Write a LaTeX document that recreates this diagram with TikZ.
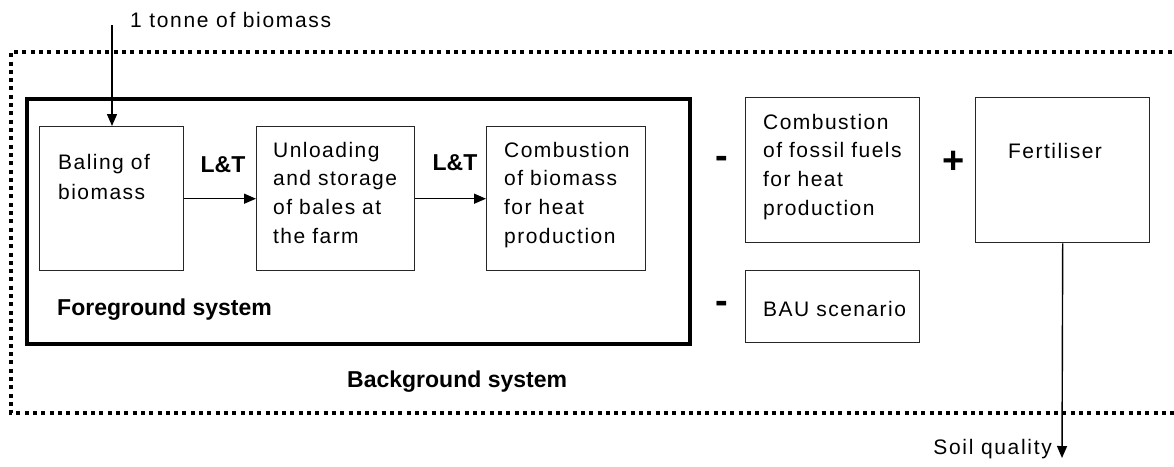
\documentclass[tikz,border=0pt]{standalone}
\usepackage{fontspec}
\setmainfont{Liberation Sans}
\usetikzlibrary{arrows.meta,calc}
\begin{document}
\begin{tikzpicture}[x=1pt,y=-1pt,
  box/.style={draw=black!85,line width=1.4pt,inner sep=0pt,anchor=north west,rectangle},
  txt/.style={anchor=base west,inner sep=0pt,text width=170pt,align=left,
    font=\fontsize{21}{28.7}\selectfont\addfontfeature{LetterSpace=7}},
  lbl/.style={inner sep=0pt,font=\fontsize{21}{26}\selectfont\addfontfeature{LetterSpace=8}},
  bld/.style={inner sep=0pt,font=\fontsize{23}{28}\selectfont\bfseries},
  sign/.style={inner sep=0pt,font=\fontsize{38}{40}\selectfont\bfseries},
  arr/.style={line width=1.4pt,-{Triangle[length=12pt,width=10pt]}}]
\useasboundingbox (0,0) rectangle (1174,466);

% background system (dotted, open to the right edge)
\draw[line width=4.2pt,dash pattern=on 4pt off 4.3pt]
  (1180,52) -- (11,52) -- (11,413) -- (1180,413);

% foreground system
\node[draw,line width=4pt,inner sep=0pt,anchor=north west,minimum width=663pt,minimum height=245pt] (fg) at (25,97) {};

% process boxes
\node[box,minimum width=144pt,minimum height=144pt] (bal) at (39,126) {};
\node[box,minimum width=158pt,minimum height=144pt] (unl) at (256,126) {};
\node[box,minimum width=159pt,minimum height=144pt] (comb) at (486,126) {};
\node[box,minimum width=174pt,minimum height=145pt] (fos) at (745,97) {};
\node[box,minimum width=174pt,minimum height=145pt] (fert) at (975,97) {};
\node[box,minimum width=174pt,minimum height=72pt] (bau) at (745,270) {};

% box texts
\node[txt,font=\fontsize{21}{30}\selectfont\addfontfeature{LetterSpace=7}] (balt) at (58,169) {Baling of\\biomass};
\node[txt] (unlt) at (273,157) {Unloading\\and storage\\of bales at\\the farm};
\node[txt] (combt) at (504,157) {Combustion\\of biomass\\for heat\\production};
\node[txt] (fost) at (763,129) {Combustion\\of fossil fuels\\for heat\\production};
\node[txt] (fertt) at (1008,158) {Fertiliser};
\node[txt] (baut) at (763,316) {BAU scenario};

% labels
\node[bld] (lt1) at (223,165) {L\&T};
\node[bld] (lt2) at (455,163) {L\&T};
\node[bld,anchor=base west] (fgl) at (57,315) {Foreground system};
\node[bld,anchor=base west] (bgl) at (347,387) {Background system};
\node[lbl,anchor=base west] (inl) at (130,27) {1 tonne of biomass};
\node[lbl,anchor=base east] (soil) at (1052,454) {Soil quality};

% signs
\node[sign] (m1) at (722,162) {-};
\node[sign] (m2) at (722,307) {-};
\node[sign] (p1) at (954,162) {+};

% connectors
\coordinate (in) at (112,25);
\coordinate (soilp) at (1062,458);
\draw[arr] (in) -- (in |- bal.north);
\draw[arr] (bal.east) -- (unl.west);
\draw[arr] (unl.east) -- (comb.west);
\draw[arr] (fert.south) -- (soilp);
\end{tikzpicture}
\end{document}
